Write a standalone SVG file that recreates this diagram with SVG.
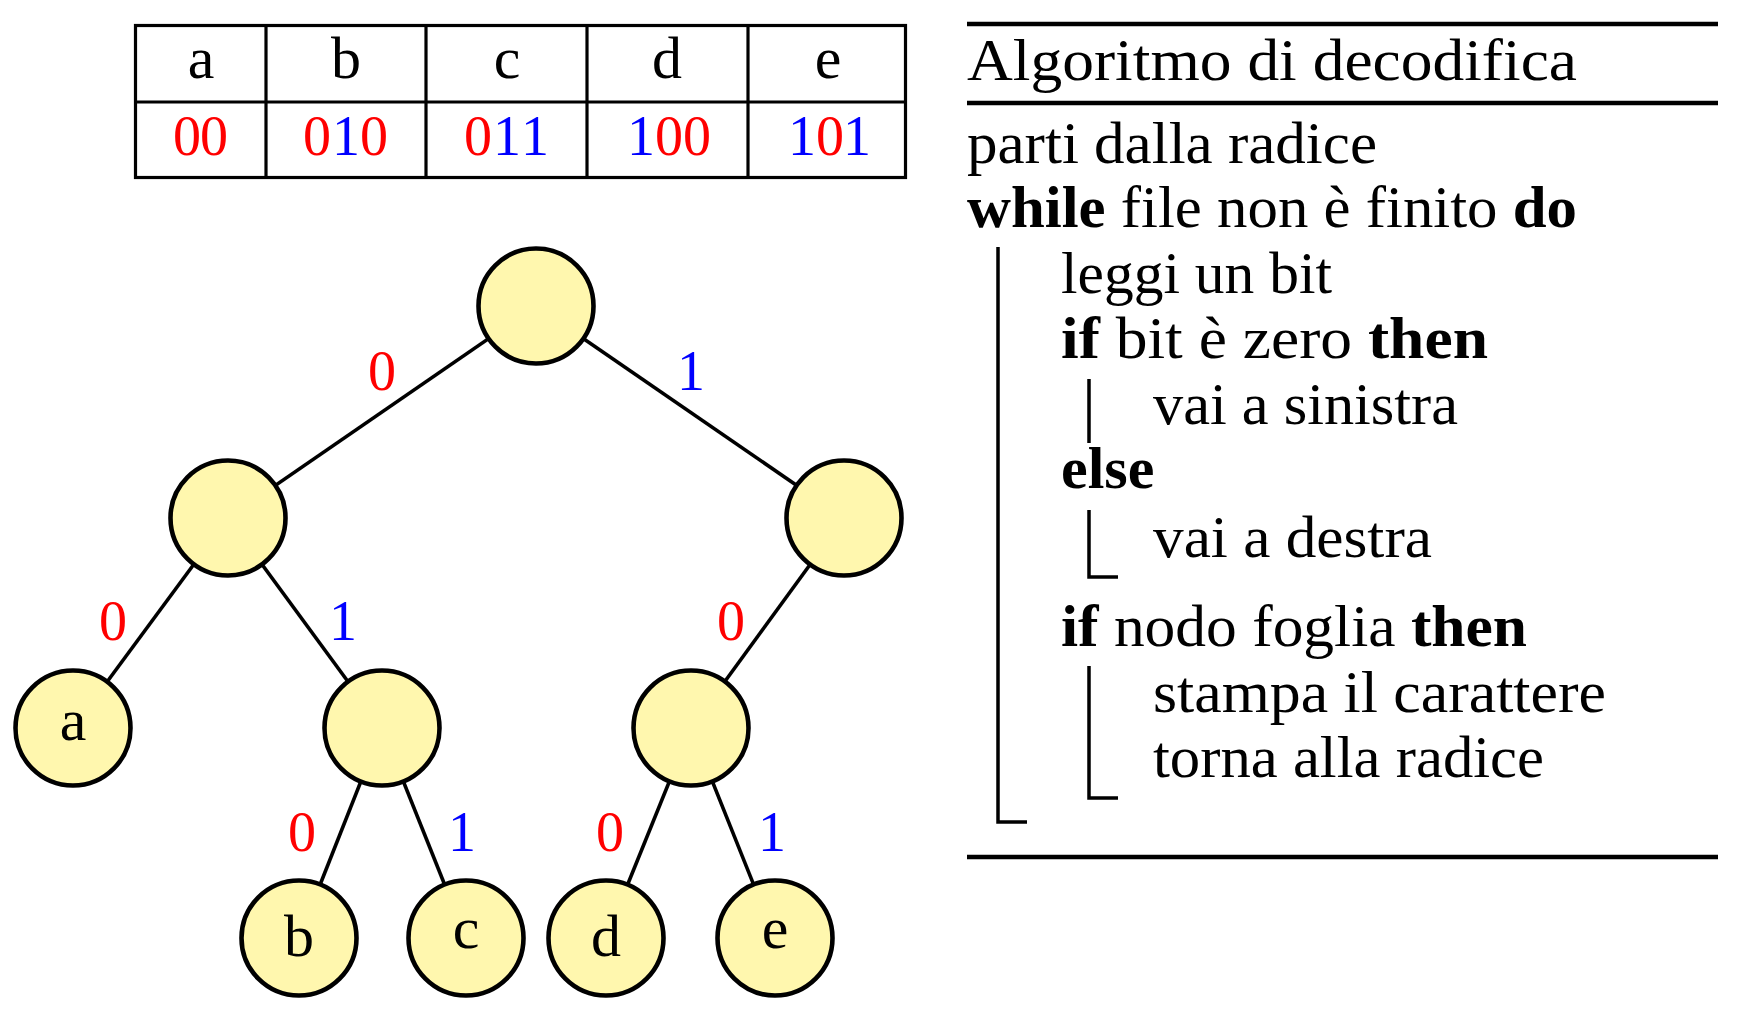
<svg xmlns="http://www.w3.org/2000/svg" width="1750" height="1026" viewBox="0 0 1750 1026">
<style>
.tt{font-family:"Liberation Serif","Times New Roman",serif;font-size:56px;text-anchor:middle}
.lt{font-size:60px}
.r{fill:#ff0000}.b{fill:#0000ff}.k{fill:#000}
.nd{fill:#fff7ae;stroke:#000;stroke-width:4.6}
.ed{stroke:#000;stroke-width:3.6;fill:none}
.rm{font-family:"Liberation Serif","Times New Roman",serif;font-size:60px;fill:#000}
.bf{font-weight:bold}
.bar{stroke:#000;stroke-width:3.5;fill:none}
.rule{stroke:#000;stroke-width:4.5}
.tb{stroke:#000;stroke-width:3.2;fill:none}
</style>
<rect width="1750" height="1026" fill="#fff"/>
<g id="table">
<rect class="tb" x="135.5" y="25.5" width="770" height="152"/>
<line class="tb" x1="135" y1="102" x2="906" y2="102" stroke-width="4.5"/>
<line class="tb" x1="266" y1="25" x2="266" y2="178"/>
<line class="tb" x1="426" y1="25" x2="426" y2="178"/>
<line class="tb" x1="587" y1="25" x2="587" y2="178"/>
<line class="tb" x1="748" y1="25" x2="748" y2="178"/>
<text class="tt lt k" x="201" y="78">a</text>
<text class="tt lt k" x="346" y="78">b</text>
<text class="tt lt k" x="507" y="78">c</text>
<text class="tt lt k" x="667" y="78">d</text>
<text class="tt lt k" x="828" y="78">e</text>
<text class="tt r" x="187" y="155">0</text>
<text class="tt r" x="214" y="155">0</text>
<text class="tt r" x="317" y="155">0</text>
<text class="tt b" x="346" y="155">1</text>
<text class="tt r" x="374" y="155">0</text>
<text class="tt r" x="478" y="155">0</text>
<text class="tt b" x="507" y="155">1</text>
<text class="tt b" x="535" y="155">1</text>
<text class="tt b" x="641" y="155">1</text>
<text class="tt r" x="669" y="155">0</text>
<text class="tt r" x="697" y="155">0</text>
<text class="tt b" x="802" y="155">1</text>
<text class="tt r" x="830" y="155">0</text>
<text class="tt b" x="857" y="155">1</text>
</g>
<g id="connectors">
<line class="ed" x1="536" y1="306" x2="228" y2="518"/>
<line class="ed" x1="536" y1="306" x2="844" y2="518"/>
<line class="ed" x1="228" y1="518" x2="73" y2="728"/>
<line class="ed" x1="228" y1="518" x2="382" y2="728"/>
<line class="ed" x1="844" y1="518" x2="691" y2="728"/>
<line class="ed" x1="382" y1="728" x2="299" y2="938"/>
<line class="ed" x1="382" y1="728" x2="466" y2="938"/>
<line class="ed" x1="691" y1="728" x2="606" y2="938"/>
<line class="ed" x1="691" y1="728" x2="775" y2="938"/>
<text class="tt r" x="382" y="390">0</text>
<text class="tt b" x="691" y="390">1</text>
<text class="tt r" x="113" y="640">0</text>
<text class="tt b" x="343" y="640">1</text>
<text class="tt r" x="731" y="640">0</text>
<text class="tt r" x="302" y="851">0</text>
<text class="tt b" x="462" y="851">1</text>
<text class="tt r" x="610" y="851">0</text>
<text class="tt b" x="772" y="851">1</text>
</g>
<g id="n-root"><circle class="nd" cx="536" cy="306" r="57.5"/></g>
<g id="n-0"><circle class="nd" cx="228" cy="518" r="57.5"/></g>
<g id="n-1"><circle class="nd" cx="844" cy="518" r="57.5"/></g>
<g id="n-a"><circle class="nd" cx="73" cy="728" r="57.5"/><text class="tt lt k" x="73" y="740">a</text></g>
<g id="n-01"><circle class="nd" cx="382" cy="728" r="57.5"/></g>
<g id="n-10"><circle class="nd" cx="691" cy="728" r="57.5"/></g>
<g id="n-b"><circle class="nd" cx="299" cy="938" r="57.5"/><text class="tt lt k" x="299" y="956">b</text></g>
<g id="n-c"><circle class="nd" cx="466" cy="938" r="57.5"/><text class="tt lt k" x="466" y="948">c</text></g>
<g id="n-d"><circle class="nd" cx="606" cy="938" r="57.5"/><text class="tt lt k" x="606" y="956">d</text></g>
<g id="n-e"><circle class="nd" cx="775" cy="938" r="57.5"/><text class="tt lt k" x="775" y="948">e</text></g>
<g id="algorithm">
<line class="rule" x1="967" y1="24" x2="1718" y2="24"/>
<line class="rule" x1="967" y1="103" x2="1718" y2="103"/>
<line class="rule" x1="967" y1="857" x2="1718" y2="857" stroke-width="5"/>
<text class="rm" x="967" y="80" font-size="66" textLength="610" lengthAdjust="spacingAndGlyphs">Algoritmo di decodifica</text>
<text class="rm" x="967" y="163" textLength="410" lengthAdjust="spacingAndGlyphs">parti dalla radice</text>
<text class="rm" x="967" y="227" textLength="610" lengthAdjust="spacingAndGlyphs"><tspan class="bf">while</tspan> file non è finito <tspan class="bf">do</tspan></text>
<path class="bar" d="M998,247 V822 H1027"/>
<text class="rm" x="1061" y="293" textLength="271" lengthAdjust="spacingAndGlyphs">leggi un bit</text>
<text class="rm" x="1061" y="358" textLength="427" lengthAdjust="spacingAndGlyphs"><tspan class="bf">if</tspan> bit è zero <tspan class="bf">then</tspan></text>
<path class="bar" d="M1089,379 V443"/>
<text class="rm" x="1153" y="424" textLength="305" lengthAdjust="spacingAndGlyphs">vai a sinistra</text>
<text class="rm bf" x="1061" y="488">else</text>
<path class="bar" d="M1089,510 V577 H1118"/>
<text class="rm" x="1153" y="557" textLength="279" lengthAdjust="spacingAndGlyphs">vai a destra</text>
<text class="rm" x="1061" y="646" textLength="466" lengthAdjust="spacingAndGlyphs"><tspan class="bf">if</tspan> nodo foglia <tspan class="bf">then</tspan></text>
<path class="bar" d="M1089,666 V798 H1118"/>
<text class="rm" x="1153" y="712" textLength="453" lengthAdjust="spacingAndGlyphs">stampa il carattere</text>
<text class="rm" x="1153" y="777" textLength="391" lengthAdjust="spacingAndGlyphs">torna alla radice</text>
</g>
</svg>
